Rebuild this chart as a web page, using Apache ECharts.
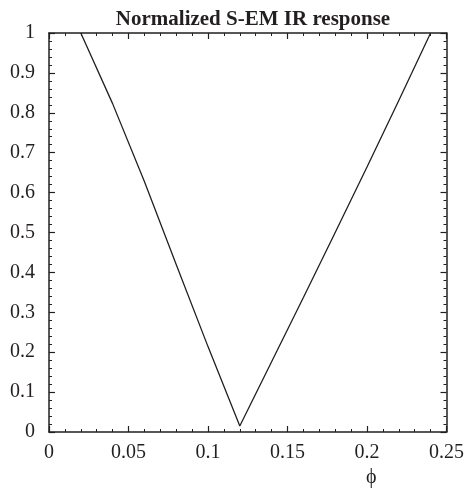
<!DOCTYPE html>
<html>
<head>
<meta charset="utf-8">
<script src="https://cdn.jsdelivr.net/npm/echarts@6/dist/echarts.min.js"></script>
<style>
  html, body { margin: 0; padding: 0; background: #fff; }
  #main { width: 467px; height: 492px; }
</style>
</head>
<body>
<div id="main"></div>
<script>
// values
var phi = [0.02, 0.04, 0.06, 0.08, 0.10, 0.12, 0.14, 0.16, 0.18, 0.20, 0.22, 0.24];
var response = [1.0, 0.823, 0.628, 0.42, 0.214, 0.015, 0.176, 0.337, 0.5, 0.664, 0.831, 1.0];
var titleText = 'Normalized S-EM IR response';
var xName = 'ϕ';

var font = '"Liberation Serif", "DejaVu Serif", serif';
var ink = '#231f20';

var points = [];
for (var i = 0; i < phi.length; i++) {
  points.push([phi[i], response[i]]);
}

function frameAxis(type, pos, showLabel, extra) {
  var ax = {
    type: 'value',
    position: pos,
    axisLine: { show: true, onZero: false, lineStyle: { color: ink, width: 1.5 } },
    axisTick: { show: true, inside: true, length: 6, lineStyle: { color: ink, width: 1.2 } },
    minorTick: { show: true, splitNumber: 5, length: 3, lineStyle: { color: ink, width: 1 } },
    splitLine: { show: false },
    axisLabel: { show: showLabel, color: ink, fontFamily: font, fontSize: 20 }
  };
  for (var k in extra) ax[k] = extra[k];
  return ax;
}

var myChart = echarts.init(document.getElementById('main'));
var option = {
  animation: false,
  backgroundColor: '#fff',
  title: {
    text: titleText,
    left: 248,
    textAlign: 'center',
    top: 4,
    textStyle: { fontFamily: font, fontWeight: 'bold', fontSize: 21, color: ink }
  },
  grid: { left: 49, right: 19, top: 33, bottom: 60, containLabel: false },
  xAxis: [
    frameAxis('value', 'bottom', true, { min: 0, max: 0.25, interval: 0.05 }),
    frameAxis('value', 'top', false, { min: 0, max: 0.25, interval: 0.05 })
  ],
  yAxis: [
    frameAxis('value', 'left', true, { min: 0, max: 1, interval: 0.1 }),
    frameAxis('value', 'right', false, { min: 0, max: 1, interval: 0.1 })
  ],
  graphic: [{
    type: 'text',
    left: 366,
    top: 468,
    style: { text: xName, fontFamily: font, fontSize: 20, fill: ink }
  }],
  series: [{
    type: 'line',
    data: points,
    showSymbol: false,
    lineStyle: { color: ink, width: 1.3 },
    clip: true
  }]
};
option.xAxis[0].axisLabel.margin = 11;
option.yAxis[0].axisLabel.margin = 14;
myChart.setOption(option);
</script>
</body>
</html>
